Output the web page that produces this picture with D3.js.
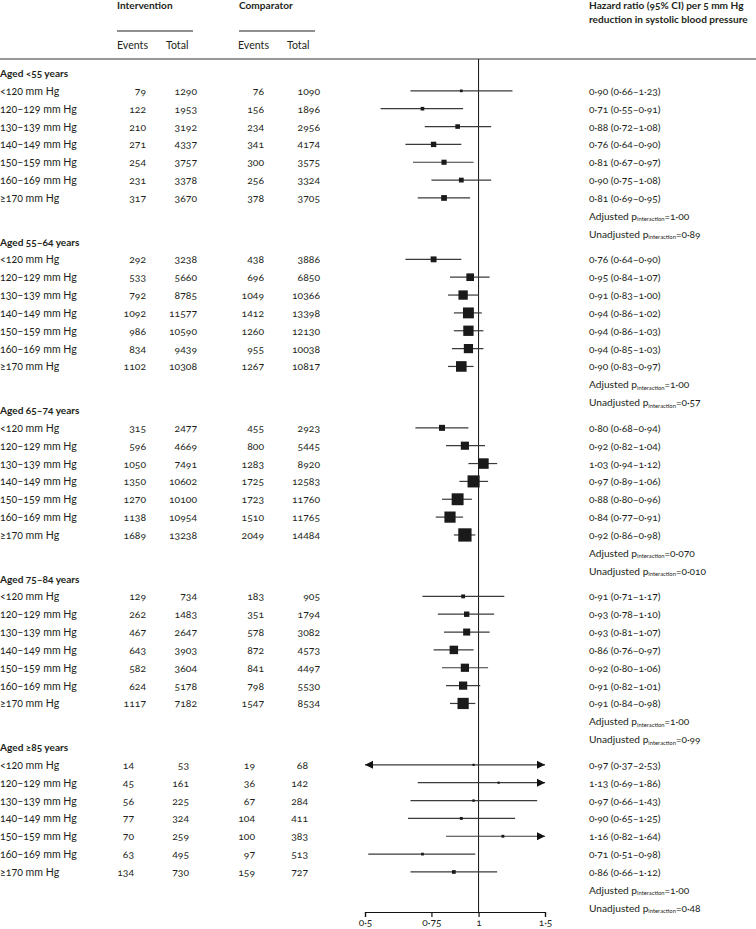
<!DOCTYPE html>
<html>
<head>
<meta charset="utf-8">
<script src="https://cdn.jsdelivr.net/npm/d3@7"></script>
<style>
  html, body { margin: 0; padding: 0; background: #fff; }
  svg { display: block; font-family: Lato, "Noto Sans", sans-serif; font-variant-numeric: oldstyle-nums; }
  text { fill: #231f20; }
</style>
</head>
<body>
<svg id="chart" width="756" height="929"></svg>
<script>
// ---------------- DATA ----------------
const groups = ["Aged <55 years", "Aged 55–64 years", "Aged 65–74 years", "Aged 75–84 years", "Aged ≥85 years"];
const bpCategories = ["<120 mm Hg", "120–129 mm Hg", "130–139 mm Hg", "140–149 mm Hg", "150–159 mm Hg", "160–169 mm Hg", "≥170 mm Hg"];

const interventionEvents = [
  [79, 122, 210, 271, 254, 231, 317],
  [292, 533, 792, 1092, 986, 834, 1102],
  [315, 596, 1050, 1350, 1270, 1138, 1689],
  [129, 262, 467, 643, 582, 624, 1117],
  [14, 45, 56, 77, 70, 63, 134]
];
const interventionTotal = [
  [1290, 1953, 3192, 4337, 3757, 3378, 3670],
  [3238, 5660, 8785, 11577, 10590, 9439, 10308],
  [2477, 4669, 7491, 10602, 10100, 10954, 13238],
  [734, 1483, 2647, 3903, 3604, 5178, 7182],
  [53, 161, 225, 324, 259, 495, 730]
];
const comparatorEvents = [
  [76, 156, 234, 341, 300, 256, 378],
  [438, 696, 1049, 1412, 1260, 955, 1267],
  [455, 800, 1283, 1725, 1723, 1510, 2049],
  [183, 351, 578, 872, 841, 798, 1547],
  [19, 36, 67, 104, 100, 97, 159]
];
const comparatorTotal = [
  [1090, 1896, 2956, 4174, 3575, 3324, 3705],
  [3886, 6850, 10366, 13398, 12130, 10038, 10817],
  [2923, 5445, 8920, 12583, 11760, 11765, 14484],
  [905, 1794, 3082, 4573, 4497, 5530, 8534],
  [68, 142, 284, 411, 383, 513, 727]
];
const hazardRatio = [
  [0.90, 0.71, 0.88, 0.76, 0.81, 0.90, 0.81],
  [0.76, 0.95, 0.91, 0.94, 0.94, 0.94, 0.90],
  [0.80, 0.92, 1.03, 0.97, 0.88, 0.84, 0.92],
  [0.91, 0.93, 0.93, 0.86, 0.92, 0.91, 0.91],
  [0.97, 1.13, 0.97, 0.90, 1.16, 0.71, 0.86]
];
const ciLower = [
  [0.66, 0.55, 0.72, 0.64, 0.67, 0.75, 0.69],
  [0.64, 0.84, 0.83, 0.86, 0.86, 0.85, 0.83],
  [0.68, 0.82, 0.94, 0.89, 0.80, 0.77, 0.86],
  [0.71, 0.78, 0.81, 0.76, 0.80, 0.82, 0.84],
  [0.37, 0.69, 0.66, 0.65, 0.82, 0.51, 0.66]
];
const ciUpper = [
  [1.23, 0.91, 1.08, 0.90, 0.97, 1.08, 0.95],
  [0.90, 1.07, 1.00, 1.02, 1.03, 1.03, 0.97],
  [0.94, 1.04, 1.12, 1.06, 0.96, 0.91, 0.98],
  [1.17, 1.10, 1.07, 0.97, 1.06, 1.01, 0.98],
  [2.53, 1.86, 1.43, 1.25, 1.64, 0.98, 1.12]
];
const pAdjusted = ["1·00", "1·00", "0·070", "1·00", "1·00"];
const pUnadjusted = ["0·89", "0·57", "0·010", "0·99", "0·48"];
const axisTicks = [0.5, 0.75, 1, 1.5];
const axisTickLabels = ["0·5", "0·75", "1", "1·5"];

// ---------------- LAYOUT ----------------
const svg = d3.select("#chart");
const FS = 10.6;      // regular labels
const FSB = 10.1;     // bold headings
const FSN = 10.4;     // numbers
const FSR = 10.2;     // right-hand text
const ink = "#231f20";
const lineCol = "#3a3a3a";

const x = d3.scaleLog().domain([0.5, 1.5]).range([365, 545]);
const slotsPerGroup = 9.44;
const totalSlots = (groups.length - 1) * slotsPerGroup + 9;
const y = d3.scaleLinear().domain([0, totalSlots]).range([73, 73 + totalSlots * 17.85]);
const axisY = 912;
const topRuleY = 59;

const sizeScale = d3.scaleSqrt().domain([0, 3738]).range([0, 13.3]);

const dec = v => d3.format(".2f")(v).replace(".", "·");
const fmtN = d3.format("d");

// header
const colInt = 117, colComp = 239;
svg.append("text").attr("x", colInt).attr("y", 5).attr("dominant-baseline", "central")
  .attr("font-size", FSB).attr("font-weight", "bold").text("Intervention");
svg.append("text").attr("x", colComp).attr("y", 5).attr("dominant-baseline", "central")
  .attr("font-size", FSB).attr("font-weight", "bold").text("Comparator");
[[117, 193], [239, 315]].forEach(([a, b]) => {
  svg.append("line").attr("x1", a).attr("x2", b).attr("y1", 31).attr("y2", 31)
    .attr("stroke", ink).attr("stroke-width", 1);
});
[["Events", 117], ["Total", 166], ["Events", 238], ["Total", 287]].forEach(([t, xx]) => {
  svg.append("text").attr("x", xx).attr("y", 45).attr("dominant-baseline", "central")
    .attr("font-size", FS).text(t);
});
svg.append("text").attr("x", 589).attr("y", 5).attr("dominant-baseline", "central")
  .attr("font-size", FSB).attr("font-weight", "bold").text("Hazard ratio (95% CI) per 5 mm Hg");
svg.append("text").attr("x", 589).attr("y", 19).attr("dominant-baseline", "central")
  .attr("font-size", FSB).attr("font-weight", "bold").text("reduction in systolic blood pressure");

svg.append("line").attr("x1", 0).attr("x2", 756).attr("y1", topRuleY).attr("y2", topRuleY)
  .attr("stroke", "#333").attr("stroke-width", 1);

// reference line at HR = 1
svg.append("line").attr("x1", x(1)).attr("x2", x(1)).attr("y1", topRuleY).attr("y2", axisY)
  .attr("stroke", "#111").attr("stroke-width", 1);

// number columns (right edges)
const numCols = [146, 197, 264, 320];
const numColsLast = [134, 189, 255, 308];

groups.forEach((g, gi) => {
  const base = gi * slotsPerGroup;
  const G = svg.append("g");
  G.append("text").attr("x", 0).attr("y", y(base)).attr("dominant-baseline", "central")
    .attr("font-size", FSB).attr("font-weight", "bold").text(g);

  bpCategories.forEach((cat, ri) => {
    const yy = y(base + ri + 1);
    G.append("text").attr("x", 0).attr("y", yy).attr("dominant-baseline", "central")
      .attr("font-size", FS).text(cat);
    const vals = [interventionEvents[gi][ri], interventionTotal[gi][ri], comparatorEvents[gi][ri], comparatorTotal[gi][ri]];
    const cols = gi === groups.length - 1 ? numColsLast : numCols;
    vals.forEach((v, ci) => {
      G.append("text").attr("x", cols[ci]).attr("y", yy).attr("dominant-baseline", "central")
        .attr("text-anchor", "end").attr("font-size", FSN).text(fmtN(v));
    });

    // CI line
    const lo = ciLower[gi][ri], hi = ciUpper[gi][ri], hr = hazardRatio[gi][ri];
    const [d0, d1] = x.domain();
    const xl = x(Math.max(lo, d0)), xh = x(Math.min(hi, d1));
    G.append("line").attr("x1", xl).attr("x2", xh).attr("y1", yy).attr("y2", yy)
      .attr("stroke", lineCol).attr("stroke-width", 1.2);
    if (hi > d1) {
      G.append("path").attr("d", `M${xh},${yy} L${xh - 8},${yy - 4} L${xh - 8},${yy + 4} Z`).attr("fill", "#111");
    }
    if (lo < d0) {
      G.append("path").attr("d", `M${xl},${yy} L${xl + 8},${yy - 4} L${xl + 8},${yy + 4} Z`).attr("fill", "#111");
    }
    const s = Math.max(2.2, sizeScale(interventionEvents[gi][ri] + comparatorEvents[gi][ri]));
    G.append("rect").attr("x", x(hr) - s / 2).attr("y", yy - s / 2).attr("width", s).attr("height", s)
      .attr("fill", "#1a1a1a");

    G.append("text").attr("x", 589).attr("y", yy).attr("dominant-baseline", "central")
      .attr("font-size", FSR).text(`${dec(hr)} (${dec(lo)}–${dec(hi)})`);
  });

  [["Adjusted p", pAdjusted[gi], 8], ["Unadjusted p", pUnadjusted[gi], 9]].forEach(([lab, p, slot]) => {
    const t = G.append("text").attr("x", 589).attr("y", y(base + slot)).attr("dominant-baseline", "central")
      .attr("font-size", FSR);
    t.append("tspan").text(lab);
    t.append("tspan").attr("font-size", 5.8).attr("dy", 2.5).text("interaction");
    t.append("tspan").attr("dy", -2.5).text("=" + p);
  });
});

// axis
const axis = d3.axisBottom(x).tickValues(axisTicks)
  .tickFormat((d, i) => axisTickLabels[i]).tickSize(5).tickPadding(2);
const ax = svg.append("g").attr("transform", `translate(0,${axisY})`).call(axis);
ax.selectAll("path, line").attr("stroke", "#111").attr("stroke-width", 1.2);
ax.selectAll("text").attr("font-size", FSR).attr("font-family", "Lato, sans-serif").attr("fill", ink);
</script>
</body>
</html>
